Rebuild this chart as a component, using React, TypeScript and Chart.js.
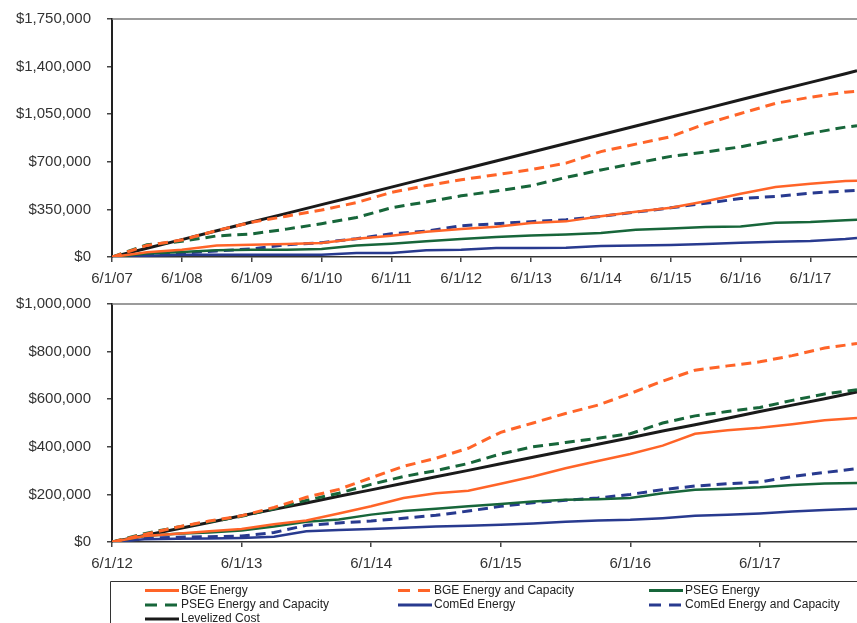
import React, { useEffect, useRef } from 'react';
import { Chart, registerables } from 'chart.js';

Chart.register(...registerables);

// ---------- Data (months since the first tick label) ----------
// Top panel: months since 6/1/07
const topMonths = [0, 6, 12, 18, 24, 30, 36, 42, 48, 54, 60, 66, 72, 78, 84, 90, 96, 102, 108, 114, 120, 126, 128];
const topTickLabels = ['6/1/07', '6/1/08', '6/1/09', '6/1/10', '6/1/11', '6/1/12', '6/1/13', '6/1/14', '6/1/15', '6/1/16', '6/1/17'];
const topBgeEnergy = [0, 35000, 54000, 85000, 90000, 95000, 103000, 135000, 157000, 185000, 205000, 222000, 250000, 262000, 300000, 333000, 362000, 410000, 465000, 515000, 538000, 558000, 561000];
const topBgeEnergyCapacity = [0, 85000, 125000, 195000, 255000, 300000, 345000, 400000, 475000, 525000, 568000, 605000, 642000, 690000, 775000, 830000, 885000, 980000, 1055000, 1130000, 1175000, 1212000, 1218000];
const topPsegEnergy = [0, 25000, 37000, 50000, 53000, 54000, 59000, 85000, 98000, 115000, 132000, 147000, 158000, 166000, 176000, 200000, 210000, 221000, 225000, 252000, 258000, 271000, 274000];
const topPsegEnergyCapacity = [0, 90000, 115000, 155000, 170000, 205000, 245000, 290000, 362000, 405000, 450000, 485000, 524000, 585000, 640000, 690000, 740000, 772000, 810000, 860000, 910000, 955000, 965000];
const topComEdEnergy = [0, 10000, 17000, 17000, 17000, 17000, 17000, 29000, 29000, 49000, 54000, 66000, 66000, 68000, 80000, 84000, 88000, 96000, 105000, 112000, 118000, 132000, 140000];
const topComEdEnergyCapacity = [0, 15000, 29000, 45000, 60000, 90000, 105000, 135000, 171000, 190000, 230000, 245000, 260000, 274000, 299000, 330000, 362000, 395000, 430000, 445000, 470000, 485000, 490000];
const topLevelized = [0, 64000, 128000, 193000, 257000, 321000, 385000, 449000, 514000, 578000, 642000, 706000, 770000, 835000, 899000, 963000, 1027000, 1091000, 1156000, 1220000, 1284000, 1348000, 1370000];
const topYMax = 1750000;
const topYStep = 350000;
const topXMax = 128;

// Bottom panel: months since 6/1/12
const bottomMonths = [0, 3, 6, 9, 12, 15, 18, 21, 24, 27, 30, 33, 36, 39, 42, 45, 48, 51, 54, 57, 60, 63, 66, 69];
const bottomTickLabels = ['6/1/12', '6/1/13', '6/1/14', '6/1/15', '6/1/16', '6/1/17'];
const bottomBgeEnergy = [0, 25000, 35000, 45000, 55000, 75000, 90000, 120000, 150000, 185000, 205000, 215000, 245000, 275000, 310000, 340000, 370000, 405000, 455000, 470000, 480000, 495000, 512000, 521000];
const bottomBgeEnergyCapacity = [0, 32000, 62000, 88000, 110000, 145000, 188000, 221000, 270000, 318000, 352000, 394000, 461000, 500000, 540000, 575000, 624000, 676000, 722000, 740000, 757000, 783000, 815000, 834000];
const bottomPsegEnergy = [0, 25000, 35000, 40000, 48000, 65000, 85000, 95000, 115000, 130000, 140000, 150000, 160000, 170000, 178000, 180000, 185000, 205000, 220000, 224000, 230000, 240000, 246000, 248000];
const bottomPsegEnergyCapacity = [0, 35000, 62000, 85000, 108000, 140000, 175000, 205000, 242000, 275000, 300000, 330000, 370000, 400000, 418000, 436000, 455000, 500000, 530000, 548000, 565000, 595000, 622000, 640000];
const bottomComEdEnergy = [0, 12000, 14000, 15000, 17000, 22000, 45000, 50000, 55000, 60000, 65000, 68000, 72000, 78000, 85000, 90000, 93000, 100000, 110000, 115000, 120000, 128000, 134000, 140000];
const bottomComEdEnergyCapacity = [0, 15000, 20000, 22000, 25000, 40000, 70000, 80000, 88000, 100000, 112000, 130000, 150000, 165000, 175000, 185000, 200000, 220000, 235000, 245000, 252000, 275000, 292000, 308000];
const bottomLevelized = [0, 27000, 55000, 82000, 110000, 137000, 164000, 192000, 219000, 247000, 274000, 301000, 329000, 356000, 383000, 411000, 438000, 466000, 493000, 520000, 548000, 575000, 602000, 630000];
const bottomYMax = 1000000;
const bottomYStep = 200000;
const bottomXMax = 69;

const seriesNames = [
  'BGE Energy',
  'BGE Energy and Capacity',
  'PSEG Energy',
  'PSEG Energy and Capacity',
  'ComEd Energy',
  'ComEd Energy and Capacity',
  'Levelized Cost',
];

// ---------- Styles ----------
const ORANGE = '#FF6428';
const GREEN = '#17663A';
const NAVY = '#283A8F';
const BLACK = '#1A1A1A';
const seriesColors = [ORANGE, ORANGE, GREEN, GREEN, NAVY, NAVY, BLACK];
const seriesDashed = [false, true, false, true, false, true, false];
const FONT = '"Liberation Sans", Arial, sans-serif';

const framePlugin = {
  id: 'frameTop',
  afterDraw(chart: any) {
    const { ctx, chartArea: a } = chart;
    ctx.save();
    ctx.strokeStyle = '#7a7a7a';
    ctx.lineWidth = 1.5;
    ctx.beginPath();
    ctx.moveTo(a.left, a.top);
    ctx.lineTo(chart.width, a.top);
    ctx.stroke();
    ctx.restore();
  },
};

const boxLegendPlugin = {
  id: 'boxLegend',
  afterDraw(chart: any) {
    const { ctx, chartArea: a } = chart;
    const boxTop = a.bottom + 39;
    const boxLeft = 110;
    ctx.save();
    ctx.strokeStyle = '#333';
    ctx.lineWidth = 1;
    ctx.beginPath();
    ctx.moveTo(boxLeft + 0.5, chart.height + 5);
    ctx.lineTo(boxLeft + 0.5, boxTop + 0.5);
    ctx.lineTo(chart.width + 5, boxTop + 0.5);
    ctx.stroke();

    const colStarts = [145, 398, 649];
    const rowYs = [boxTop + 9.5, boxTop + 24, boxTop + 38];
    const lineLen = 34;
    ctx.font = '12px ' + FONT;
    ctx.textBaseline = 'middle';
    ctx.textAlign = 'left';
    chart.data.datasets.forEach((ds: any, i: number) => {
      const col = i % 3;
      const row = Math.floor(i / 3);
      const x = colStarts[col];
      const y = rowYs[row];
      ctx.strokeStyle = ds.borderColor;
      ctx.lineWidth = 3;
      ctx.setLineDash(ds.borderDash && ds.borderDash.length ? [12, 8] : []);
      ctx.beginPath();
      ctx.moveTo(x, y);
      ctx.lineTo(x + lineLen, y);
      ctx.stroke();
      ctx.setLineDash([]);
      ctx.fillStyle = '#222';
      ctx.fillText(ds.label, x + lineLen + 2, y);
    });
    ctx.restore();
  },
};

function buildConfig(
  months: number[],
  series: number[][],
  tickLabels: string[],
  xMax: number,
  yMax: number,
  yStep: number,
  padTop: number,
  padBottom: number,
  withLegend: boolean
) {
  const datasets = series.map((vals, i) => ({
    label: seriesNames[i],
    data: vals.map((v, j) => ({ x: months[j], y: v })),
    borderColor: seriesColors[i],
    backgroundColor: seriesColors[i],
    borderWidth: seriesDashed[i] ? 3 : i === 6 ? 3 : 2.5,
    borderDash: seriesDashed[i] ? [10, 6] : [],
    pointRadius: 0,
    tension: 0,
    fill: false,
  }));
  return {
    type: 'line' as const,
    data: { datasets },
    options: {
      responsive: false,
      animation: false as const,
      devicePixelRatio: 1,
      layout: { padding: { top: padTop, bottom: padBottom, left: 0, right: 0 } },
      plugins: {
        legend: { display: false },
        tooltip: { enabled: false },
      },
      scales: {
        x: {
          type: 'linear' as const,
          min: 0,
          max: xMax,
          afterBuildTicks: (axis: any) => {
            axis.ticks = tickLabels.map((_, i) => ({ value: i * 12 }));
          },
          afterFit: (axis: any) => {
            axis.height = 35;
          },
          ticks: {
            autoSkip: false,
            maxRotation: 0,
            padding: 8,
            color: '#333',
            font: { size: 15, family: FONT },
            callback: (_v: any, idx: number) => tickLabels[idx],
          },
          grid: { drawOnChartArea: false, drawTicks: true, tickLength: 5, color: '#444', lineWidth: 1.5 },
          border: { display: true, color: '#333', width: 1.5 },
        },
        y: {
          min: 0,
          max: yMax,
          afterFit: (axis: any) => {
            axis.width = 112;
            axis.paddingTop = 9;
            axis.paddingBottom = 9;
          },
          ticks: {
            stepSize: yStep,
            padding: 16,
            color: '#333',
            font: { size: 15, family: FONT },
            callback: (v: any) => '$' + Number(v).toLocaleString('en-US'),
          },
          grid: { drawOnChartArea: false, drawTicks: true, tickLength: 5, color: '#444', lineWidth: 1.5 },
          border: { display: true, color: '#222', width: 2 },
        },
      },
    },
    plugins: withLegend ? [framePlugin, boxLegendPlugin] : [framePlugin],
  };
}

function ChartCanvas({ config, width, height, top }: { config: any; width: number; height: number; top: number }) {
  const ref = useRef<HTMLCanvasElement | null>(null);
  useEffect(() => {
    if (!ref.current) return;
    const chart = new Chart(ref.current, config);
    return () => chart.destroy();
  }, [config]);
  return (
    <canvas
      ref={ref}
      width={width}
      height={height}
      style={{ position: 'absolute', left: 0, top, width, height, display: 'block' }}
    />
  );
}

const topConfig = buildConfig(
  topMonths,
  [topBgeEnergy, topBgeEnergyCapacity, topPsegEnergy, topPsegEnergyCapacity, topComEdEnergy, topComEdEnergyCapacity, topLevelized],
  topTickLabels,
  topXMax,
  topYMax,
  topYStep,
  19,
  0,
  false
);

const bottomConfig = buildConfig(
  bottomMonths,
  [bottomBgeEnergy, bottomBgeEnergyCapacity, bottomPsegEnergy, bottomPsegEnergyCapacity, bottomComEdEnergy, bottomComEdEnergyCapacity, bottomLevelized],
  bottomTickLabels,
  bottomXMax,
  bottomYMax,
  bottomYStep,
  12,
  46,
  true
);

export default function App() {
  return (
    <div style={{ position: 'absolute', left: 0, top: 0, width: 857, height: 623, overflow: 'hidden', background: '#fff' }}>
      <ChartCanvas config={topConfig} width={857} height={292} top={0} />
      <ChartCanvas config={bottomConfig} width={857} height={331} top={292} />
    </div>
  );
}
